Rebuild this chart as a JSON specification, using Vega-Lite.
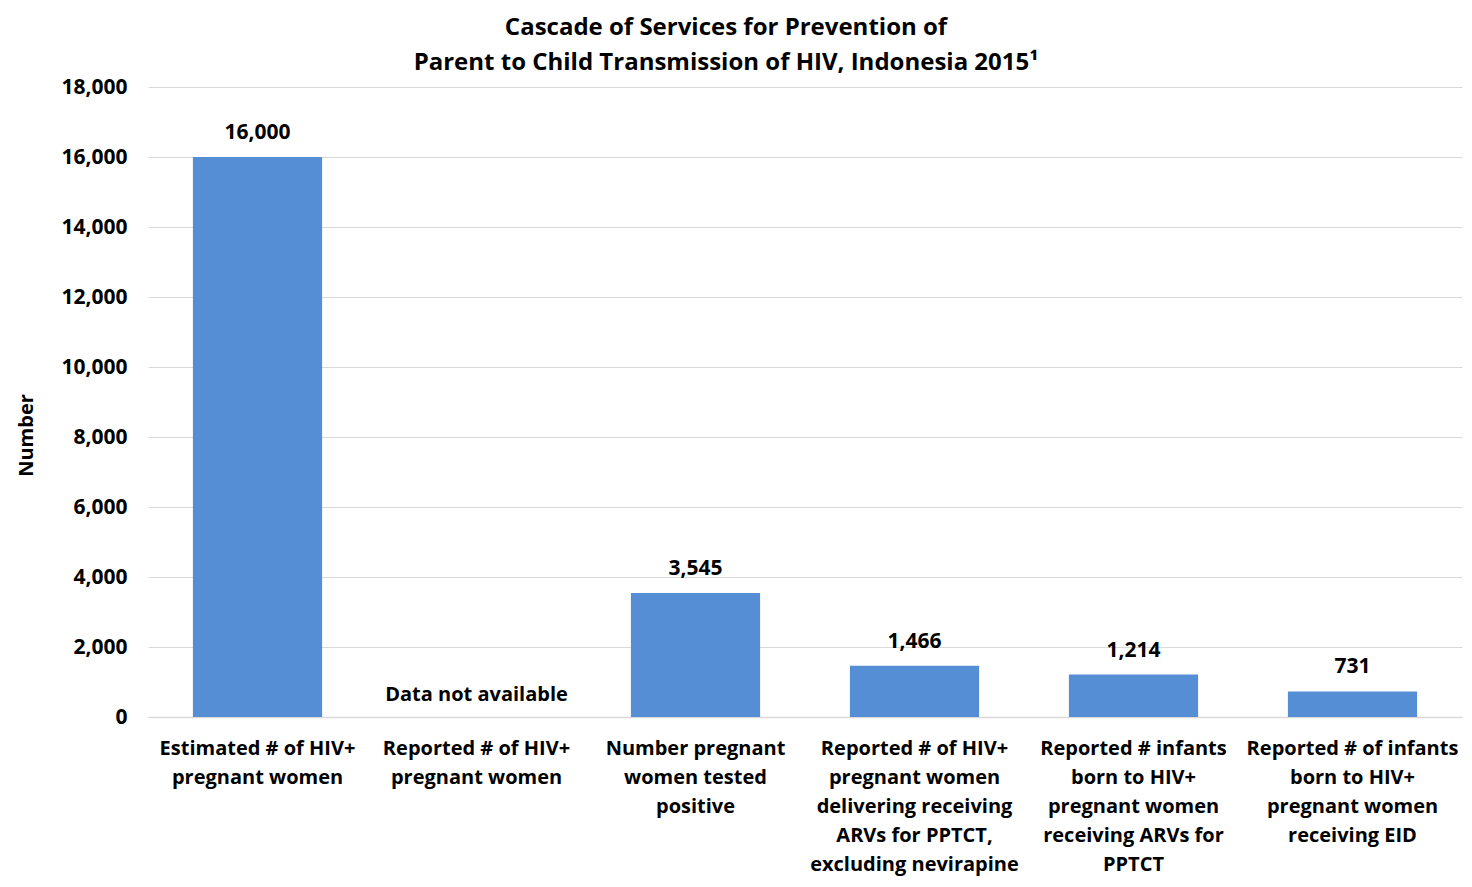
{
  "$schema": "https://vega.github.io/schema/vega-lite/v6.json",
  "width": 1314,
  "height": 630,
  "autosize": {"type": "none"},
  "padding": {"left": 148, "top": 87, "right": 10, "bottom": 170},
  "background": "white",
  "title": {
    "text": ["Cascade of Services for Prevention of", "Parent to Child Transmission of HIV, Indonesia 2015¹"],
    "anchor": "middle",
    "frame": "group",
    "dx": -79,
    "fontSize": 24,
    "fontWeight": "bold",
    "font": "Open Sans",
    "color": "#000000",
    "lineHeight": 35,
    "offset": 1
  },
  "data": {
    "values": [
      {"category": "Estimated # of HIV+|pregnant women", "value": 16000, "label": "16,000", "note": null},
      {"category": "Reported # of HIV+|pregnant women", "value": null, "label": null, "note": "Data not available"},
      {"category": "Number pregnant|women tested|positive", "value": 3545, "label": "3,545", "note": null},
      {"category": "Reported # of HIV+|pregnant women|delivering receiving|ARVs for PPTCT,|excluding nevirapine", "value": 1466, "label": "1,466", "note": null},
      {"category": "Reported # infants|born to HIV+|pregnant women|receiving ARVs for|PPTCT", "value": 1214, "label": "1,214", "note": null},
      {"category": "Reported # of infants|born to HIV+|pregnant women|receiving EID", "value": 731, "label": "731", "note": null}
    ]
  },
  "encoding": {
    "x": {
      "field": "category",
      "type": "nominal",
      "sort": [
        "Estimated # of HIV+|pregnant women",
        "Reported # of HIV+|pregnant women",
        "Number pregnant|women tested|positive",
        "Reported # of HIV+|pregnant women|delivering receiving|ARVs for PPTCT,|excluding nevirapine",
        "Reported # infants|born to HIV+|pregnant women|receiving ARVs for|PPTCT",
        "Reported # of infants|born to HIV+|pregnant women|receiving EID"
      ],
      "scale": {"paddingInner": 0.41, "paddingOuter": 0.205},
      "axis": {
        "title": null,
        "labelAngle": 0,
        "labelExpr": "split(datum.label, '|')",
        "labelFont": "Open Sans",
        "labelFontSize": 20,
        "labelFontWeight": "bold",
        "labelColor": "#000000",
        "labelLineHeight": 29,
        "labelPadding": 21,
        "labelLimit": 300,
        "ticks": false,
        "domainColor": "#d9d9d9",
        "domainWidth": 1.5,
        "grid": false
      }
    }
  },
  "layer": [
    {
      "mark": {"type": "bar", "color": "#558ED5"},
      "encoding": {
        "y": {
          "field": "value",
          "type": "quantitative",
          "scale": {"domain": [0, 18000]},
          "axis": {
            "title": "Number",
            "titleFont": "Open Sans",
            "titleFontSize": 20,
            "titleFontWeight": "bold",
            "titleColor": "#000000",
            "titlePadding": 24,
            "titleY": 348,
            "values": [0, 2000, 4000, 6000, 8000, 10000, 12000, 14000, 16000, 18000],
            "format": ",d",
            "labelFont": "Open Sans",
            "labelFontSize": 21,
            "labelFontWeight": "bold",
            "labelColor": "#000000",
            "labelPadding": 21,
            "ticks": false,
            "domain": false,
            "gridColor": "#d9d9d9",
            "gridWidth": 1
          }
        }
      }
    },
    {
      "mark": {"type": "text", "baseline": "bottom", "dy": -14, "font": "Open Sans", "fontSize": 21, "fontWeight": "bold", "color": "#000000"},
      "encoding": {
        "y": {"field": "value", "type": "quantitative"},
        "text": {"field": "label"}
      }
    },
    {
      "transform": [{"filter": "datum.note != null"}],
      "mark": {"type": "text", "baseline": "bottom", "dy": -12, "font": "Open Sans", "fontSize": 20, "fontWeight": "bold", "color": "#000000"},
      "encoding": {
        "y": {"datum": 0, "type": "quantitative"},
        "text": {"field": "note"}
      }
    }
  ],
  "config": {"view": {"stroke": null}}
}
